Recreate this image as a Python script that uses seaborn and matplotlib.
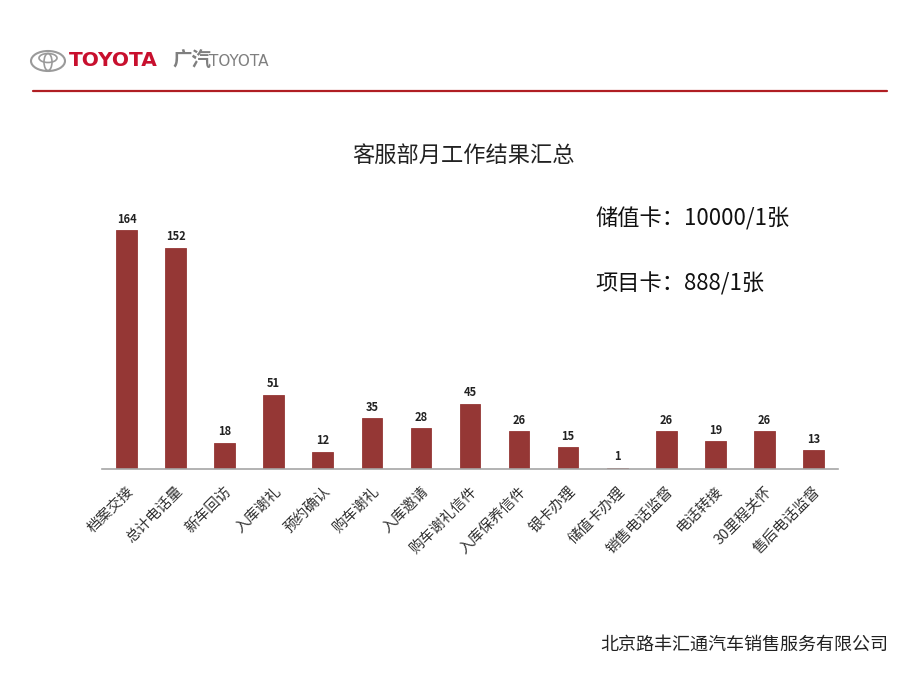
import matplotlib
matplotlib.use('Agg')
import matplotlib.pyplot as plt
import matplotlib.patches as mpatches
import pandas as pd
import seaborn as sns

# Datos del gráfico
categorias = ['档案交接', '总计电话量', '新车回访', '入库谢礼', '预约确认', '购车谢礼', '入库邀请',
              '购车谢礼信件', '入库保养信件', '银卡办理', '储值卡办理', '销售电话监督', '电话转接',
              '30里程关怀', '售后电话监督']
valores = [164, 152, 18, 51, 12, 35, 28, 45, 26, 15, 1, 26, 19, 26, 13]
titulo = '客服部月工作结果汇总'
notas = ['储值卡：10000/1张', '项目卡：888/1张']
pie = '北京路丰汇通汽车销售服务有限公司'

sns.set_theme(style='white')
plt.rcParams['font.family'] = ['Noto Sans CJK SC', 'DejaVu Sans']

df = pd.DataFrame({'cat': categorias, 'val': valores})

fig = plt.figure(figsize=(9.2, 6.9), dpi=100)
ax = fig.add_axes([102 / 920, 1 - 469 / 690, 736 / 920, 262 / 690])

sns.barplot(data=df, x='cat', y='val', color='#953735', saturation=1, width=0.42,
            edgecolor='#953735', linewidth=0.6, ax=ax)
ax.set_ylim(0, 180)
ax.set_xlim(-0.5, len(categorias) - 0.5)

for i, v in enumerate(valores):
    ax.text(i, v + 3, str(v), ha='center', va='bottom', fontsize=8, fontweight='bold', color='#222222')

ax.set_xlabel('')
ax.set_ylabel('')
ax.set_yticks([])
ax.tick_params(axis='x', length=0, pad=11)
plt.setp(ax.get_xticklabels(), rotation=45, ha='right', rotation_mode='anchor', fontsize=10.5, color='#333333')
for s in ['top', 'left', 'right']:
    ax.spines[s].set_visible(False)
ax.spines['bottom'].set_color('#a6a6a6')
ax.spines['bottom'].set_linewidth(1.2)

# Encabezado
fig.text(463 / 920, 1 - 155 / 690, titulo, ha='center', va='center', fontsize=16, color='#222222')
fig.text(595 / 920, 1 - 219 / 690, notas[0], ha='left', va='center', fontsize=16, color='#111111')
fig.text(595 / 920, 1 - 284 / 690, notas[1], ha='left', va='center', fontsize=16, color='#111111')
fig.text(888 / 920, 1 - 645 / 690, pie, ha='right', va='center', fontsize=13, color='#222222')

# Logo y línea roja
fig.add_artist(mpatches.Ellipse((48 / 920, 1 - 61 / 690), 34 / 920, 20 / 690,
                                fill=False, ec='#9a9a9a', lw=1.5, transform=fig.transFigure))
fig.add_artist(mpatches.Ellipse((48 / 920, 1 - 58 / 690), 18 / 920, 9 / 690,
                                fill=False, ec='#9a9a9a', lw=1.2, transform=fig.transFigure))
fig.add_artist(mpatches.Ellipse((48 / 920, 1 - 62 / 690), 8 / 920, 17 / 690,
                                fill=False, ec='#9a9a9a', lw=1.2, transform=fig.transFigure))
fig.text(69 / 920, 1 - 61 / 690, 'TOYOTA', ha='left', va='center', fontsize=14.5,
         fontweight='bold', color='#c8102e', family='DejaVu Sans')
fig.text(172 / 920, 1 - 61 / 690, '广汽', ha='left', va='center', fontsize=14,
         fontweight='bold', color='#7f7f7f', style='italic')
fig.text(209 / 920, 1 - 62 / 690, 'TOYOTA', ha='left', va='center', fontsize=11,
         color='#7f7f7f', family='DejaVu Sans')
fig.add_artist(plt.Line2D([33 / 920, 887 / 920], [1 - 91 / 690, 1 - 91 / 690],
                          color='#b01e23', lw=1.6, transform=fig.transFigure))

fig.savefig('out.png', dpi=100)
